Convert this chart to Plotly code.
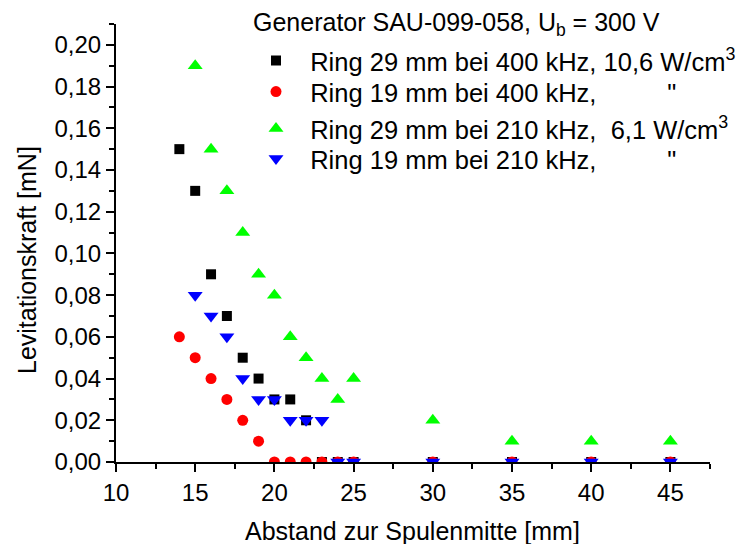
import plotly.graph_objects as go

# distances [mm]
x_black = [14, 15, 16, 17, 18, 19, 20, 21, 22, 23, 24, 25, 30, 35, 40, 45]
y_black = [0.15, 0.13, 0.09, 0.07, 0.05, 0.04, 0.03, 0.03, 0.02, 0, 0, 0, 0, 0, 0, 0]

x_red = [14, 15, 16, 17, 18, 19, 20, 21, 22, 23, 24, 25, 30, 35, 40, 45]
y_red = [0.06, 0.05, 0.04, 0.03, 0.02, 0.01, 0, 0, 0, 0, 0, 0, 0, 0, 0, 0]

x_green = [15, 16, 17, 18, 19, 20, 21, 22, 23, 24, 25, 30, 35, 40, 45]
y_green = [0.19, 0.15, 0.13, 0.11, 0.09, 0.08, 0.06, 0.05, 0.04, 0.03, 0.04, 0.02, 0.01, 0.01, 0.01]

x_blue = [15, 16, 17, 18, 19, 20, 21, 22, 23, 24, 25, 30, 35, 40, 45]
y_blue = [0.08, 0.07, 0.06, 0.04, 0.03, 0.03, 0.02, 0.02, 0.02, 0, 0, 0, 0, 0, 0]

NB = "\u00a0"
names = [
    NB * 2 + "Ring 29 mm bei 400 kHz, 10,6 W/cm<sup>3</sup>",
    NB * 2 + "Ring 19 mm bei 400 kHz," + NB * 10 + '"',
    NB * 2 + "Ring 29 mm bei 210 kHz," + NB * 2 + "6,1 W/cm<sup>3</sup>",
    NB * 2 + "Ring 19 mm bei 210 kHz," + NB * 10 + '"',
]
title_text = "Generator SAU-099-058, U<sub>b</sub> = 300 V"
x_title = "Abstand zur Spulenmitte [mm]"
y_title = "Levitationskraft [mN]"

FONT = "Liberation Sans, Arial, sans-serif"

# plot area in pixels
L, R, T, B = 116, 710, 24, 462
W, H = R - L, B - T


def px(xp):
    return (xp - L) / W


def py(yp):
    return (B - yp) / H


fig = go.Figure()
specs = [
    (x_black, y_black, "square", 10, "#000000", "legend"),
    (x_red, y_red, "circle", 11, "#ff0000", "legend2"),
    (x_green, y_green, "triangle-up", 13, "#00ff00", "legend3"),
    (x_blue, y_blue, "triangle-down", 13, "#0000ff", "legend4"),
]
for (xs, ys, sym, sz, col, lg), nm in zip(specs, names):
    fig.add_trace(go.Scatter(x=xs, y=ys, mode="markers", name=nm, legend=lg,
                             marker=dict(symbol=sym, size=sz, color=col)))

row_y = [61, 92, 129, 159]
leg_common = dict(xanchor="left", yanchor="middle", bgcolor="rgba(0,0,0,0)",
                  font=dict(size=25.5), borderwidth=0)
legends = {}
for key, ry in zip(["legend", "legend2", "legend3", "legend4"], row_y):
    legends[key] = dict(x=px(256), y=py(ry), **leg_common)

fig.update_layout(
    width=741, height=544,
    margin=dict(l=L, r=741 - R, t=T, b=544 - B, autoexpand=False),
    paper_bgcolor="white", plot_bgcolor="white",
    separators=",.",
    font=dict(family=FONT, size=24, color="black"),
    showlegend=True,
    annotations=[
        dict(text=title_text, xref="paper", yref="paper",
             x=px(251), y=py(24), xanchor="left", yanchor="middle",
             showarrow=False, font=dict(size=25)),
        dict(text=x_title, xref="paper", yref="paper",
             x=px(412), y=py(531), xanchor="center", yanchor="middle",
             showarrow=False, font=dict(size=25)),
        dict(text=y_title, xref="paper", yref="paper",
             x=px(27), y=py(260), xanchor="center", yanchor="middle",
             textangle=-90, showarrow=False, font=dict(size=25)),
    ],
    **legends,
)
fig.update_xaxes(range=[10, 47.5], tickvals=[10, 15, 20, 25, 30, 35, 40, 45],
                 ticks="outside", ticklen=8, tickwidth=2, tickcolor="black",
                 showline=True, linecolor="black", linewidth=2,
                 showgrid=False, zeroline=False, automargin=False,
                 minor=dict(dtick=2.5, tick0=10, ticks="outside", ticklen=5, tickwidth=2, tickcolor="black"),
                 tickfont=dict(size=24))
fig.update_yaxes(range=[0, 0.21], dtick=0.02, tick0=0, tickformat=".2f",
                 ticks="outside", ticklen=8, tickwidth=2, tickcolor="black",
                 showline=True, linecolor="black", linewidth=2,
                 showgrid=False, zeroline=False, automargin=False,
                 minor=dict(dtick=0.01, ticks="outside", ticklen=5, tickwidth=2, tickcolor="black"),
                 tickfont=dict(size=24))

fig.write_html("out.html")
